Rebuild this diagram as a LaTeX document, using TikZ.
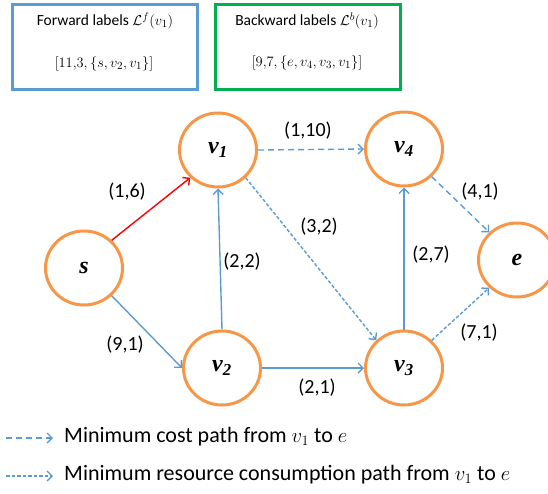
\documentclass[tikz,border=0pt]{standalone}
\usepackage{fontspec}
\setmainfont{Carlito}
\newfontfamily\nodefont{Liberation Serif}
\usetikzlibrary{arrows.meta,shapes.geometric}
\definecolor{nodeorange}{HTML}{F79646}
\definecolor{edgeblue}{HTML}{5B9BD5}
\definecolor{boxgreen}{HTML}{00B050}
\definecolor{boxblue}{HTML}{5B9BD5}
\begin{document}
\begin{tikzpicture}[x=1pt,y=-1pt,
  vtx/.style={ellipse, draw=nodeorange, line width=3pt, minimum width=77pt, minimum height=74pt, inner sep=0pt, font=\nodefont\bfseries\itshape\fontsize{24}{26}\selectfont},
  conn/.style={draw=edgeblue, line width=1.4pt, -{Straight Barb[length=5pt,width=10pt,line width=1.4pt]}},
  longdash/.style={dash pattern=on 6pt off 4pt},
  shortdash/.style={dash pattern=on 3.5pt off 2pt},
  elabel/.style={font=\fontsize{20}{24}\selectfont, inner sep=0pt},
  titlebox/.style={line width=3pt, inner sep=0pt},
  boxtext/.style={font=\fontsize{15.5}{18}\selectfont, inner sep=0pt},
  legtext/.style={font=\fontsize{22}{25}\selectfont, inner sep=0pt, anchor=west}
]
\useasboundingbox (0,0) rectangle (548,493);

% label boxes
\draw[boxblue, titlebox] (12.5,4.5) rectangle (197.5,89);
\node[boxtext] (ftitle) at (105,21) {Forward labels $\mathcal{L}^f(v_1)$};
\node[boxtext] (flab) at (104,64) {$[11{,}3,\{s,v_2,v_1\}]$};
\draw[boxgreen, titlebox] (215,4.5) rectangle (400,89.5);
\node[boxtext] (btitle) at (307,21) {Backward labels $\mathcal{L}^b(v_1)$};
\node[boxtext] (blab) at (307,63) {$[9{,}7,\{e,v_4,v_3,v_1\}]$};

% vertices
\node[vtx] (s)  at (84,268)  {s};
\node[vtx] (v1) at (218,150) {v\textsubscript{1}};
\node[vtx] (v2) at (222,368) {v\textsubscript{2}};
\node[vtx] (v3) at (404,368) {v\textsubscript{3}};
\node[vtx] (v4) at (404,149) {v\textsubscript{4}};
\node[vtx] (e)  at (517,260) {e};

% edges
\draw[conn, draw=red] (s.45) -- (v1.225);
\draw[conn] (s.-45) -- (v2.180);
\draw[conn] (v2.90) -- (v1.270);
\draw[conn] (v2.0) -- (v3.180);
\draw[conn, longdash] (v1.0) -- (v4.180);
\draw[conn, shortdash] (v1.-45) -- (v3.135);
\draw[conn] (v3.90) -- (v4.270);
\draw[conn, longdash] (v4.-45) -- (e.135);
\draw[conn, shortdash] (v3.45) -- (e.225);

% edge labels
\node[elabel] (l16)  at (127,192) {(1,6)};
\node[elabel] (l91)  at (125,345) {(9,1)};
\node[elabel] (l22)  at (242,262) {(2,2)};
\node[elabel] (l110) at (308,131) {(1,10)};
\node[elabel] (l32)  at (319,227) {(3,2)};
\node[elabel] (l27)  at (431,255) {(2,7)};
\node[elabel] (l41)  at (480,192) {(4,1)};
\node[elabel] (l71)  at (479,333) {(7,1)};
\node[elabel] (l21)  at (317,388) {(2,1)};

% legend
\coordinate (la1) at (6,438);
\coordinate (lb1) at (53,438);
\coordinate (la2) at (6,476);
\coordinate (lb2) at (53,476);
\draw[conn, longdash] (la1) -- (lb1);
\draw[conn, shortdash] (la2) -- (lb2);
\node[legtext] (leg1) at (64,437) {Minimum cost path from $v_1$ to $e$};
\node[legtext] (leg2) at (64,475) {Minimum resource consumption path from $v_1$ to $e$};
\end{tikzpicture}
\end{document}
